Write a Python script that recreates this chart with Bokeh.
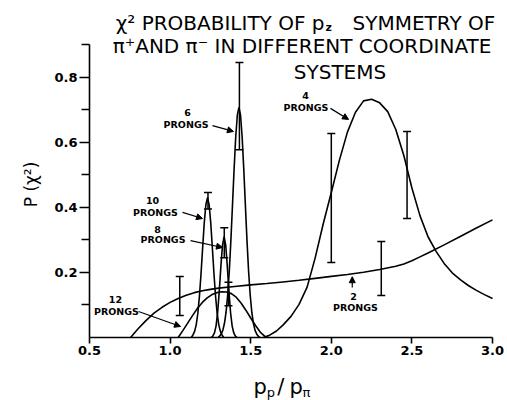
from bokeh.plotting import figure
from bokeh.models import (Range1d, FixedTicker, Label, Arrow, NormalHead,
                          Whisker, TeeHead, ColumnDataSource)
from bokeh.core.properties import value
from bokeh.embed import file_html
from bokeh.resources import INLINE

# ---- curves: P(chi^2) versus p_p/p_pi for each prong multiplicity ----
x_2pr = [0.755, 0.80, 0.85, 0.90, 0.95, 1.00, 1.05, 1.10, 1.15, 1.20, 1.25, 1.30,
         1.40, 1.50, 1.60, 1.70, 1.80, 1.90, 2.00, 2.10, 2.20, 2.30, 2.40, 2.45,
         2.50, 2.55, 2.60, 2.70, 2.80, 2.90, 3.00]
y_2pr = [0.0, 0.026, 0.052, 0.075, 0.093, 0.108, 0.120, 0.130, 0.138, 0.144, 0.148, 0.152,
         0.157, 0.162, 0.166, 0.171, 0.176, 0.182, 0.188, 0.194, 0.201, 0.209, 0.219, 0.226,
         0.236, 0.248, 0.260, 0.285, 0.311, 0.337, 0.362]

x_4pr = [1.58, 1.62, 1.66, 1.70, 1.75, 1.80, 1.85, 1.90, 1.95, 2.00, 2.05, 2.10, 2.15,
         2.20, 2.25, 2.30, 2.35, 2.40, 2.45, 2.50, 2.55, 2.60, 2.65, 2.70, 2.75, 2.80,
         2.85, 2.90, 2.95, 3.00]
y_4pr = [0.0, 0.008, 0.020, 0.038, 0.065, 0.102, 0.155, 0.245, 0.350, 0.446, 0.545, 0.632,
         0.693, 0.728, 0.733, 0.722, 0.695, 0.640, 0.560, 0.460, 0.375, 0.310, 0.265, 0.228,
         0.199, 0.178, 0.160, 0.145, 0.132, 0.120]

x_6pr = [1.297, 1.307, 1.317, 1.327, 1.337, 1.347, 1.357, 1.367, 1.377, 1.387, 1.397,
         1.407, 1.417, 1.427, 1.437, 1.447, 1.457, 1.467, 1.477, 1.487, 1.497, 1.507,
         1.517, 1.527, 1.537, 1.547, 1.557]
y_6pr = [0.0, 0.004, 0.011, 0.022, 0.043, 0.077, 0.130, 0.203, 0.298, 0.407, 0.518,
         0.616, 0.684, 0.708, 0.684, 0.616, 0.518, 0.407, 0.298, 0.203, 0.130, 0.077,
         0.043, 0.022, 0.011, 0.004, 0.0]

x_8pr = [1.255, 1.265, 1.275, 1.285, 1.295, 1.305, 1.315, 1.325, 1.335, 1.345, 1.355,
         1.365, 1.375, 1.385, 1.395, 1.405, 1.415]
y_8pr = [0.0, 0.004, 0.014, 0.035, 0.077, 0.142, 0.219, 0.284, 0.310, 0.284, 0.219,
         0.142, 0.077, 0.035, 0.014, 0.004, 0.0]

x_10pr = [1.132, 1.142, 1.152, 1.162, 1.172, 1.182, 1.192, 1.202, 1.212, 1.222, 1.232,
          1.242, 1.252, 1.262, 1.272, 1.282, 1.292, 1.302, 1.312, 1.322, 1.332]
y_10pr = [0.0, 0.008, 0.019, 0.039, 0.074, 0.127, 0.197, 0.277, 0.354, 0.409, 0.430,
          0.409, 0.354, 0.277, 0.197, 0.127, 0.074, 0.039, 0.019, 0.008, 0.0]

x_12pr = [1.05, 1.08, 1.11, 1.14, 1.17, 1.20, 1.23, 1.26, 1.29, 1.32, 1.35, 1.38,
          1.41, 1.44, 1.47, 1.50, 1.53, 1.56, 1.59, 1.61]
y_12pr = [0.0, 0.022, 0.045, 0.068, 0.090, 0.108, 0.122, 0.132, 0.138, 0.141, 0.140, 0.135,
          0.124, 0.106, 0.084, 0.060, 0.037, 0.016, 0.003, 0.0]

# ---- error bars ----
err_x = [1.06, 1.235, 1.336, 1.362, 1.43, 2.0, 2.31, 2.47]
err_lo = [0.068, 0.395, 0.245, 0.098, 0.578, 0.231, 0.129, 0.366]
err_hi = [0.188, 0.446, 0.338, 0.170, 0.846, 0.628, 0.295, 0.634]

# ---- ticks ----
x_ticks = [0.5, 1.0, 1.5, 2.0, 2.5, 3.0]
x_tick_labels = ["0.5", "1.0", "1.5", "2.0", "2.5", "3.0"]
y_ticks = [0.2, 0.4, 0.6, 0.8]
y_tick_labels = ["0.2", "0.4", "0.6", "0.8"]
y_minor_ticks = [0.1, 0.3, 0.5, 0.7, 0.9]

# ---- curve labels ----
lab_num = ["2", "4", "6", "8", "10", "12"]
lab_num_x = [2.138, 1.840, 1.108, 0.922, 0.891, 0.661]
lab_num_y = [0.126, 0.745, 0.692, 0.332, 0.4215, 0.117]
lab_word_x = [2.150, 1.843, 1.099, 0.956, 0.909, 0.667]
lab_word_y = [0.092, 0.708, 0.655, 0.3015, 0.385, 0.080]
# arrows from label to curve: (x_start, y_start, x_end, y_end)
arrows = [(2.130, 0.154, 2.130, 0.187),
          (1.995, 0.705, 2.107, 0.671),
          (1.263, 0.652, 1.393, 0.634),
          (1.127, 0.298, 1.325, 0.277),
          (1.077, 0.385, 1.201, 0.366),
          (0.804, 0.080, 1.065, 0.034)]

FONT = "DejaVu Sans"

# The frame spans the whole canvas; the axes sit at fixed data locations
p = figure(width=507, height=400, output_backend="svg", toolbar_location=None,
           x_range=Range1d(-0.05211, 3.09305), y_range=Range1d(-0.19385, 1.03692),
           min_border=0)
p.outline_line_color = None
p.grid.visible = False
p.background_fill_color = "white"
p.border_fill_color = "white"

# x axis
xa = p.xaxis[0]
xa.fixed_location = 0.0
xa.ticker = FixedTicker(ticks=x_ticks)
xa.major_label_overrides = {t: s for t, s in zip(x_ticks, x_tick_labels)}
xa.bounds = (0.5, 3.0)
xa.axis_line_width = 1.6
xa.major_tick_line_width = 1.6
xa.major_tick_in = 0
xa.major_tick_out = 6
xa.minor_tick_line_color = None
xa.major_label_standoff = 3
xa.major_label_text_font = FONT
xa.major_label_text_font_style = "bold"
xa.major_label_text_font_size = "13px"
xa.major_label_text_color = "black"

# y axis
ya = p.yaxis[0]
ya.fixed_location = 0.5
ya.ticker = FixedTicker(ticks=y_ticks, minor_ticks=y_minor_ticks)
ya.major_label_overrides = {t: s for t, s in zip(y_ticks, y_tick_labels)}
ya.bounds = (0.0, 0.9)
ya.axis_line_width = 1.6
ya.major_tick_line_width = 1.6
ya.minor_tick_line_width = 1.6
ya.major_tick_in = 0
ya.major_tick_out = 10
ya.minor_tick_in = 0
ya.minor_tick_out = 8
ya.major_label_standoff = 2
ya.major_label_text_font = FONT
ya.major_label_text_font_style = "bold"
ya.major_label_text_font_size = "13px"
ya.major_label_text_color = "black"

# curves
for xs, ys in [(x_2pr, y_2pr), (x_4pr, y_4pr), (x_6pr, y_6pr),
               (x_8pr, y_8pr), (x_10pr, y_10pr), (x_12pr, y_12pr)]:
    p.line(xs, ys, line_color="black", line_width=1.6)

# error bars
err_src = ColumnDataSource(dict(x=err_x, lo=err_lo, hi=err_hi))
p.add_layout(Whisker(source=err_src, base="x", lower="lo", upper="hi",
                     line_color="black", line_width=1.5,
                     upper_head=TeeHead(size=8, line_width=1.5, line_color="black"),
                     lower_head=TeeHead(size=8, line_width=1.5, line_color="black")))

# curve labels
p.text(x=lab_num_x, y=lab_num_y, text=lab_num, text_font=value(FONT),
       text_font_style="bold", text_font_size="9.5px", text_align="center",
       text_baseline="middle", text_color="black")
p.text(x=lab_word_x, y=lab_word_y, text=["PRONGS"] * len(lab_word_x),
       text_font=value(FONT), text_font_style="bold", text_font_size="9.5px",
       text_align="center", text_baseline="middle", text_color="black")
for xs0, ys0, xe, ye in arrows:
    p.add_layout(Arrow(x_start=xs0, y_start=ys0, x_end=xe, y_end=ye,
                       line_color="black", line_width=1.2,
                       end=NormalHead(size=6, fill_color="black", line_color="black")))


def label(x, y, text, size, align="left", baseline="alphabetic", angle=0.0, style="normal"):
    p.add_layout(Label(x=x, y=y, text=text, text_font=FONT, text_font_size=size,
                       text_align=align, text_baseline=baseline, angle=angle,
                       text_font_style=style, text_color="black"))


# title
label(1.9578, 0.9692, "χ² PROBABILITY OF p", "20px", align="right")
label(1.9640, 0.954, "z", "11px", style="bold")
label(2.1315, 0.9692, "SYMMETRY OF", "20px")
label(1.8183, 0.8975, "π⁺AND π⁻ IN DIFFERENT COORDINATE", "20px", align="center")
label(2.054, 0.816, "SYSTEMS", "20px", align="center")

# axis titles
label(0.134, 0.4708, "P (χ²)", "17px", align="center", baseline="middle", angle=1.5708)
label(1.5174, -0.1538, "p", "21px")
label(1.600, -0.170, "p", "13px")
label(1.665, -0.1538, "/", "21px")
label(1.7407, -0.1538, "p", "21px")
label(1.8213, -0.170, "π", "13px")

open("out.html", "w").write(file_html(p, INLINE))
